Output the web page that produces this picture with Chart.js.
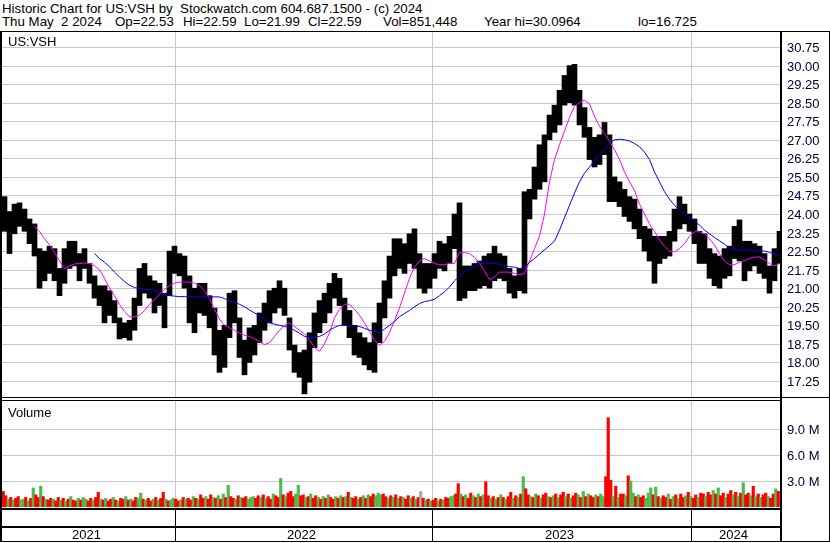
<!DOCTYPE html>
<html>
<head>
<meta charset="utf-8">
<script src="https://cdn.jsdelivr.net/npm/chart.js@4.4.1/dist/chart.umd.min.js"></script>
<style>
  body{margin:0;background:#fff;font-family:"Liberation Sans",Arial,sans-serif;color:#000;}
  #wrap{position:relative;width:830px;height:543px;overflow:hidden;background:#fff;}
  .hdr{position:absolute;font-size:13.3px;line-height:14px;white-space:pre;}
  .ln{position:absolute;background:#000;}
  canvas{position:absolute;left:0;}
  .lbl{position:absolute;left:8px;font-size:13px;line-height:14px;}
</style>
</head>
<body>
<div id="wrap">
  <div class="hdr" style="left:2px;top:2px">Historic Chart for US:VSH by  Stockwatch.com 604.687.1500 - (c) 2024</div>
  <div class="hdr" style="left:2px;top:15px">Thu May  2 2024</div>
  <div class="hdr" style="left:115px;top:15px">Op=22.53</div>
  <div class="hdr" style="left:183px;top:15px">Hi=22.59</div>
  <div class="hdr" style="left:244px;top:15px">Lo=21.99</div>
  <div class="hdr" style="left:308px;top:15px">Cl=22.59</div>
  <div class="hdr" style="left:383px;top:15px">Vol=851,448</div>
  <div class="hdr" style="left:484px;top:15px">Year hi=30.0964</div>
  <div class="hdr" style="left:638px;top:15px">lo=16.725</div>
  <canvas id="priceChart" width="830" height="366" style="top:31px"></canvas>
  <canvas id="volChart" width="830" height="140" style="top:401px"></canvas>
  <!-- frame -->
  <div class="ln" style="left:0;top:31px;width:830px;height:1px"></div>
  <div class="ln" style="left:0;top:31px;width:2px;height:511px"></div>
  <div class="ln" style="left:829px;top:31px;width:1px;height:511px"></div>
  <div class="ln" style="left:0;top:541px;width:830px;height:1px"></div>
  <div class="ln" style="left:780px;top:31px;width:2px;height:511px"></div>
  <div class="ln" style="left:0;top:397px;width:830px;height:1px"></div>
  <div class="ln" style="left:0;top:400px;width:782px;height:1px"></div>
  <div class="lbl" style="top:35px">US:VSH</div>
  <div class="lbl" style="top:406px">Volume</div>
</div>
<script>
// ---- data (one entry per week, May 2021 -> May 2024) ----
const weekLo = [
  23.3,22.4,23.2,23.5,23.3,22.8,22.3,21.0,21.3,21.6, 21.3,20.7,21.2,21.8,21.9,21.3,21.8,21.2,20.6,20.3,
  19.6,19.9,19.6,18.95,19.0,18.9,19.3,20.3,20.8,20.6, 20.0,20.3,19.4,20.7,21.6,21.5,21.0,19.6,19.2,20.0,
  19.9,19.4,18.3,17.6,17.8,19.0,19.6,18.2,17.5,18.0, 18.3,18.8,19.3,19.6,20.0,20.2,19.9,18.5,17.6,17.4,
  16.73,17.2,18.6,19.2,19.6,20.0,20.6,20.3,19.5,19.0, 18.3,18.2,17.9,17.7,17.6,18.8,19.8,20.6,21.5,21.8,
  21.6,22.0,21.8,21.0,20.8,21.0,21.4,21.8,21.7,22.0, 22.6,20.5,20.6,20.9,20.9,21.0,21.1,21.0,21.3,21.4,
  21.3,20.8,20.6,20.9,20.8,23.8,24.6,25.0,25.3,27.0, 27.3,27.6,28.4,28.5,28.4,27.6,27.1,26.2,25.9,26.0,
  26.4,24.5,24.5,24.3,23.9,23.7,23.4,23.0,22.5,22.1, 21.2,22.0,22.2,22.3,22.9,23.4,23.6,23.3,22.8,22.0,
  22.0,21.4,21.1,21.0,21.4,21.5,22.2,22.1,21.3,21.7, 21.9,21.6,21.4,20.8,21.3,22.0
];
const weekHi = [
  24.7,24.1,24.4,24.45,24.2,23.8,23.6,22.6,22.5,22.7, 22.6,21.8,22.6,22.9,22.9,22.4,22.6,22.0,21.5,21.1,
  21.1,20.9,20.5,19.8,19.6,19.7,20.6,21.8,22.0,21.5, 21.3,21.2,20.8,22.5,22.7,22.4,22.3,21.5,21.0,21.2,
  21.2,20.7,20.2,19.3,19.5,20.8,20.9,19.8,18.9,19.4, 19.5,20.0,20.4,20.9,21.0,21.3,21.0,19.8,18.7,18.4,
  18.5,19.2,20.0,20.5,20.8,21.2,21.6,21.4,20.6,20.1, 19.5,19.2,19.0,18.8,19.6,20.4,21.3,22.3,23.0,23.0,
  22.8,23.2,23.4,22.4,22.0,22.0,22.4,22.9,22.8,23.1, 24.0,24.45,21.9,21.9,22.0,22.1,22.3,22.4,22.7,22.4,
  22.3,21.8,21.5,21.8,24.9,25.0,25.9,26.8,27.2,28.0, 28.4,29.0,29.6,30.0,30.05,29.0,28.3,27.5,27.1,27.2,
  27.7,27.2,25.5,25.3,25.0,24.7,24.6,24.2,23.5,23.4, 23.1,23.1,23.1,23.3,24.2,24.7,24.4,24.0,23.8,23.3,
  23.2,22.6,22.4,22.3,22.6,22.7,23.5,23.76,22.9,22.9, 22.8,22.7,22.4,21.9,22.6,23.3
];
// magenta (short) moving average, starts at week 6
const maShort = [
  null,null,null,null,null,null,
  23.5,23.3,23.0,22.75, 22.45,22.1,21.8,21.9,21.98,22.0,22.02,22.0,21.9,21.75,
  21.4,21.0,20.7,20.35,20.05,19.85,19.85,19.9,20.1,20.35, 20.55,20.75,20.95,21.1,21.2,21.25,21.25,21.25,21.2,21.1,
  20.9,20.6,20.15,19.75,19.5,19.4,19.3,19.2,19.1,19.05, 18.95,18.85,18.72,18.8,19.05,19.3,19.5,19.6,19.45,19.3,
  19.15,18.9,18.6,18.45,18.75,19.2,19.8,20.15,20.35,20.35, 20.15,19.9,19.6,19.25,18.9,18.7,18.85,19.2,19.7,20.2,
  20.8,21.4,21.85,22.1,22.2,22.1,22.0,21.95,21.95,22.0, 22.0,22.45,22.45,22.4,22.25,22.0,21.7,21.35,21.45,21.65,
  21.65,21.65,21.6,21.55,21.6,22.1,22.6,23.1,24.0,25.3, 26.2,26.8,27.35,27.9,28.35,28.5,28.6,28.45,27.95,27.55,
  27.25,26.95,26.6,26.2,25.7,25.3,24.95,24.4,24.0,23.6, 23.3,22.95,22.7,22.5,22.47,22.6,22.8,23.1,23.28,23.28,
  23.2,23.0,22.75,22.4,22.1,21.95,21.95,22.05,22.12,22.2, 22.25,22.27,22.15,22.0,21.9,22.0
];
// blue (long) moving average, starts at week 18
const maLong = [
  null,null,null,null,null,null,null,null,null,null, null,null,null,null,null,null,null,null,
  22.4,22.2,
  22.05,21.87,21.65,21.45,21.27,21.12,21.03,20.98,20.95,20.94, 20.93,20.85,20.75,20.7,20.68,20.66,20.66,20.66,20.65,20.65,
  20.65,20.65,20.65,20.65,20.58,20.5,20.42,20.35,20.25,20.12, 20.0,19.9,19.75,19.6,19.55,19.5,19.46,19.4,19.3,19.18,
  19.05,19.0,19.02,19.05,19.15,19.3,19.42,19.5,19.5,19.48, 19.46,19.45,19.38,19.3,19.25,19.2,19.35,19.5,19.65,19.85,
  19.98,20.1,20.25,20.38,20.46,20.5,20.55,20.7,20.85,21.05, 21.3,21.5,21.65,21.78,21.9,22.0,22.02,22.02,22.0,21.97,
  21.92,21.87,21.85,21.8,21.82,22.05,22.2,22.38,22.55,22.72, 22.9,23.35,23.85,24.35,24.85,25.3,25.65,25.9,26.15,26.4,
  26.62,26.85,27.0,27.02,27.0,26.95,26.85,26.72,26.5,26.2, 25.7,25.3,24.9,24.6,24.35,24.15,24.0,23.85,23.7,23.55,
  23.35,23.2,23.05,22.92,22.78,22.63,22.55,22.55,22.55,22.55, 22.53,22.52,22.5,22.45,22.38,22.33
];
// volume in millions, two bars per week
const volM = [
  1.8,1.3,0.9,1.1,0.8,1.0,1.2,0.8,0.9,1.1,0.7,1.0,2.2,1.4,1.1,2.4,1.2,0.9,0.8,1.0,
  0.9,0.7,1.1,0.8,1.0,0.7,0.9,1.2,0.8,0.7,1.0,0.8,1.1,0.9,0.7,1.0,0.8,1.1,1.7,0.9,
  0.8,1.0,0.7,0.9,1.1,0.8,0.7,1.0,0.9,1.2,0.8,0.9,0.7,1.1,1.0,1.6,0.9,0.8,1.0,0.7,
  0.9,1.1,0.8,1.0,1.7,0.9,0.7,0.8,1.0,0.9,0.7,0.8,1.1,0.9,1.0,0.8,1.2,1.0,0.9,1.4,
  1.0,1.2,0.9,1.4,1.1,1.0,1.3,0.9,1.5,1.1,2.5,1.2,1.0,0.9,1.3,1.1,1.0,1.2,0.9,1.1,
  1.2,1.0,1.3,1.1,1.4,1.0,1.2,0.9,1.5,1.3,1.1,3.3,1.4,1.2,1.6,1.8,1.2,1.5,2.5,1.3,
  1.4,1.1,1.2,1.5,1.0,1.3,1.1,0.9,1.2,1.0,1.4,1.1,0.9,1.2,1.0,1.3,1.1,1.2,1.7,1.1,
  1.0,1.2,0.9,1.1,1.3,1.0,1.4,1.2,1.5,1.3,1.6,1.4,1.5,1.2,1.0,1.3,1.1,1.4,1.0,1.2,
  1.1,0.9,1.3,1.0,1.2,0.9,1.1,1.8,1.0,0.8,0.9,0.7,0.8,1.0,0.7,0.9,0.8,1.1,1.0,1.2,
  1.3,1.5,2.7,1.5,1.2,1.4,1.0,1.6,1.3,1.1,1.5,1.2,1.4,2.9,1.3,1.0,1.2,0.9,1.1,1.4,
  1.1,0.9,1.2,1.7,1.0,1.3,1.1,1.5,3.5,2.1,1.4,1.2,1.1,1.5,1.3,1.0,1.4,1.6,1.2,1.1,
  1.3,1.5,1.1,1.4,1.7,1.2,1.5,1.0,1.3,1.6,1.4,1.1,1.8,1.2,1.5,1.3,1.1,1.4,1.2,1.5,
  1.2,3.5,10.3,3.1,1.2,2.4,1.1,1.5,1.5,1.3,3.6,3.0,1.6,1.2,1.4,1.1,1.3,1.0,1.6,2.2,
  1.4,2.3,1.2,1.0,1.3,1.1,1.5,0.9,1.2,1.4,1.0,1.5,1.1,1.3,1.7,1.2,1.0,1.4,1.1,1.6,
  1.5,1.2,1.7,1.4,1.9,1.5,2.2,1.3,1.6,1.1,1.5,1.9,1.4,1.7,1.2,1.6,2.8,1.4,1.6,1.3,
  2.4,1.2,1.5,1.1,1.4,1.6,1.2,1.0,1.5,2.1,1.8
];
// r = down day, g = up day, n = unchanged
const volDir = [
  'rrgrgrrggrgrgrrgrgrr','grrgrgrgrrgrggrrgrrg','rgrrgrgrrgrgrrggrgrr','grgrrgrggrrgrgrrgrgr',
  'rgrrgrgrgrgrrgrgrrgg','grrgrgrrgrrgrgrrrggr','rgrgrrgrgrgrrgrgrgrg','rrgrgrgrrgggrrgrgrgr',
  'grrgrgrnrgrgrrgrgrrg','grrgrgrrgrgrgrrgrgrg','rgrrgrgrgrrgrgrgrrgr','grgrrgrgrrgrgrgrrgrg',
  'grrrgrgrrgrggrgrrggg','rgrgrrgrgrgrrgrgrrgr','rgrrgrgrrgrrgrgrgrrg','rgrgrrgrrgr'
].join('');

const priceTicks = [17.25,18.00,18.75,19.50,20.25,21.00,21.75,22.50,23.25,24.00,24.75,25.50,26.25,27.00,27.75,28.50,29.25,30.00,30.75];
const volTicks = [3,6,9];
const years = ['2021','2022','2023','2024'];
const yearBounds = [34.1, 85.5, 137.3];   // week positions of Jan 1

const FONT = '"Liberation Sans", Arial, sans-serif';
const dirColor = {r:'#ff0000', g:'#4cbb4c', n:'#a8a8a8'};

Chart.defaults.font.family = FONT;
Chart.defaults.animation = false;

// grid lines + right-hand labels, placed with the chart's own scales
function gridPlugin(ticks, fmt){
  return {
    id:'panelGrid',
    beforeDatasetsDraw(c){
      const ctx = c.ctx, a = c.chartArea, xs = c.scales.x, ys = c.scales.y;
      ctx.save();
      ctx.strokeStyle = '#c8c8c8'; ctx.lineWidth = 1;
      ctx.beginPath();
      ticks.forEach(v => { const y = Math.round(ys.getPixelForValue(v)) + 0.5; ctx.moveTo(a.left, y); ctx.lineTo(a.right, y); });
      yearBounds.forEach(v => { const x = Math.round(xs.getPixelForValue(v)) + 0.5; ctx.moveTo(x, a.top); ctx.lineTo(x, a.bottom); });
      ctx.stroke();
      ctx.fillStyle = '#000033';
      ctx.font = '13px ' + FONT;
      ctx.textAlign = 'left'; ctx.textBaseline = 'middle';
      ticks.forEach(v => ctx.fillText(fmt(v), a.right + 7, Math.round(ys.getPixelForValue(v)) + 1));
      ctx.restore();
    }
  };
}

const xOpts = () => ({type:'linear', min:-0.5, max:155.1, offset:false, display:false});

/* ================= price panel ================= */
new Chart(document.getElementById('priceChart'), {
  type:'bar',
  data:{datasets:[
    {type:'line', data:maLong.map((v,i)=>({x:i, y:v})), borderColor:'#0000ff', borderWidth:1, pointRadius:0, order:1},
    {type:'line', data:maShort.map((v,i)=>({x:i, y:v})), borderColor:'#ff00ff', borderWidth:1, pointRadius:0, order:2},
    {type:'bar', data:weekLo.map((lo,i)=>({x:i, y:[lo, weekHi[i]]})), backgroundColor:'#000', barThickness:5, order:3}
  ]},
  options:{
    responsive:false, devicePixelRatio:1,
    layout:{padding:{left:2, right:50, top:0, bottom:0}},
    plugins:{legend:{display:false}, tooltip:{enabled:false}},
    scales:{
      x:xOpts(),
      y:{display:false, min:16.603, max:31.397}
    }
  },
  plugins:[gridPlugin(priceTicks, v => v.toFixed(2))]
});

/* ================= volume panel + year axis ================= */
const yearAxis = {
  id:'yearAxis',
  afterDraw(c){
    const ctx = c.ctx, xs = c.scales.x, a = c.chartArea;
    const edges = [a.left, ...yearBounds.map(v => Math.round(xs.getPixelForValue(v))), a.right];
    ctx.save();
    ctx.fillStyle = '#000';
    ctx.fillRect(0, a.bottom + 1, a.right + 2, 2);
    ctx.fillRect(0, a.bottom + 19, a.right + 2, 2);
    edges.slice(1, -1).forEach(e => ctx.fillRect(e, a.bottom + 1, 1, c.height - a.bottom));
    ctx.font = '13px ' + FONT;
    ctx.textAlign = 'center';
    ctx.textBaseline = 'middle';
    years.forEach((y, i) => ctx.fillText(y, (edges[i] + edges[i+1]) / 2 - 2, a.bottom + 28));
    ctx.restore();
  }
};

new Chart(document.getElementById('volChart'), {
  type:'bar',
  data:{datasets:[{
    data:volM.map((v,i)=>({x:i/2 - 0.25, y:v})),
    backgroundColor:volM.map((v,i)=>dirColor[volDir[i]]),
    barPercentage:1, categoryPercentage:1
  }]},
  options:{
    responsive:false, devicePixelRatio:1,
    layout:{padding:{left:2, right:50, top:0, bottom:34}},
    plugins:{legend:{display:false}, tooltip:{enabled:false}},
    scales:{
      x:xOpts(),
      y:{display:false, min:0, max:12.23}
    }
  },
  plugins:[gridPlugin(volTicks, v => v.toFixed(1) + ' M'), yearAxis]
});
</script>
</body>
</html>
